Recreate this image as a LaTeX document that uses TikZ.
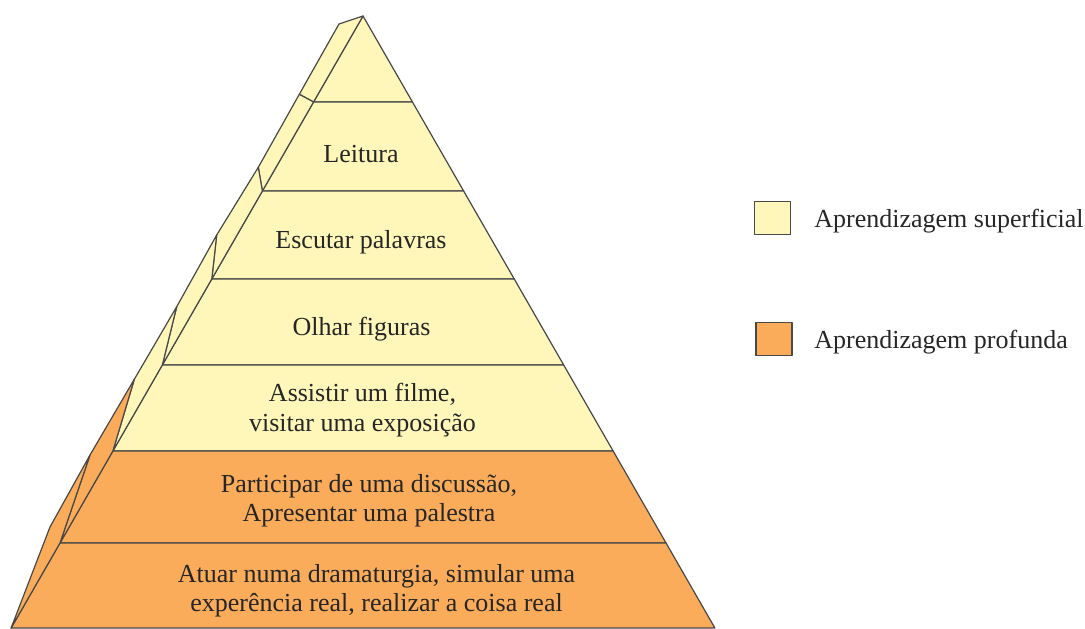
\documentclass[tikz,border=0pt]{standalone}
\usepackage{fontspec}
\setmainfont{Liberation Serif}
\definecolor{raso}{RGB}{255,247,186}
\definecolor{fundo}{RGB}{250,172,90}
\definecolor{borda}{RGB}{72,72,72}
\begin{document}
\begin{tikzpicture}[x=0.5pt,y=-0.5pt,
  face/.style={draw=borda,line width=0.6pt,line join=round},
  rasa/.style={face,fill=raso},
  funda/.style={face,fill=fundo},
  rotulo/.style={font=\fontsize{13}{14.7}\selectfont,align=center,text=black!85,inner sep=0pt}]
\useasboundingbox (0,0) rectangle (1085,628);
% front corners of the levels
\coordinate (A) at (363,16);
\coordinate (L1) at (313.55,102);  \coordinate (R1) at (412.45,102);
\coordinate (L2) at (262.38,191);  \coordinate (R2) at (463.63,191);
\coordinate (L3) at (211.78,279);  \coordinate (R3) at (514.23,279);
\coordinate (L4) at (162.33,365);  \coordinate (R4) at (563.68,365);
\coordinate (L5) at (112.88,451);  \coordinate (R5) at (613.13,451);
\coordinate (L6) at (59.98,543);   \coordinate (R6) at (666.03,543);
\coordinate (L7) at (11.1,628);    \coordinate (R7) at (714.9,628);
% outer edge of the side face
\coordinate (O0) at (339,24);
\coordinate (O1) at (299.3,94.3);
\coordinate (O2) at (258.3,167.3);
\coordinate (O3) at (216.7,235);
\coordinate (O4) at (176.7,306.7);
\coordinate (O5) at (134.3,379.3);
\coordinate (O6) at (90,455);
\coordinate (O7) at (50,527);
%
% front face
\draw[rasa] (A) -- (R1) -- (L1) -- cycle;
\draw[rasa] (L1) -- (R1) -- (R2) -- (L2) -- cycle;
\draw[rasa] (L2) -- (R2) -- (R3) -- (L3) -- cycle;
\draw[rasa] (L3) -- (R3) -- (R4) -- (L4) -- cycle;
\draw[rasa] (L4) -- (R4) -- (R5) -- (L5) -- cycle;
\draw[funda] (L5) -- (R5) -- (R6) -- (L6) -- cycle;
\draw[funda] (L6) -- (R6) -- (R7) -- (L7) -- cycle;
%
% side face
\draw[rasa] (A) -- (O0) -- (O1) -- (L1) -- cycle;
\draw[rasa] (L1) -- (O1) -- (O2) -- (L2) -- cycle;
\draw[rasa] (L2) -- (O2) -- (O3) -- (L3) -- cycle;
\draw[rasa] (L3) -- (O3) -- (O4) -- (L4) -- cycle;
\draw[rasa] (L4) -- (O4) -- (O5) -- (L5) -- cycle;
\draw[funda] (L5) -- (O5) -- (O6) -- (L6) -- cycle;
\draw[funda] (L6) -- (O6) -- (O7) -- (L7) -- cycle;
%
% texts
\node[rotulo] (leitura) at (361,154) {Leitura};
\node[rotulo] (escutar) at (361,242) {Escutar palavras};
\node[rotulo] (olhar) at (361.5,329) {Olhar figuras};
\node[rotulo] (assistir) at (362.5,410) {Assistir um filme,\\visitar uma exposição};
\node[rotulo] (participar) at (369,501) {Participar de uma discussão,\\Apresentar uma palestra};
\node[rotulo] (atuar) at (376.5,591) {Atuar numa dramaturgia, simular uma\\experência real, realizar a coisa real};
%
% legend
\node[rasa,minimum width=18pt,minimum height=16.5pt,inner sep=0pt] (caixasup) at (772.5,218) {};
\node[funda,minimum width=18pt,minimum height=16.5pt,inner sep=0pt] (caixaprof) at (774,339) {};
\node[rotulo,anchor=west] (legsup) at (814,221) {Aprendizagem superficial};
\node[rotulo,anchor=west] (legprof) at (814,342) {Aprendizagem profunda};
\end{tikzpicture}
\end{document}
